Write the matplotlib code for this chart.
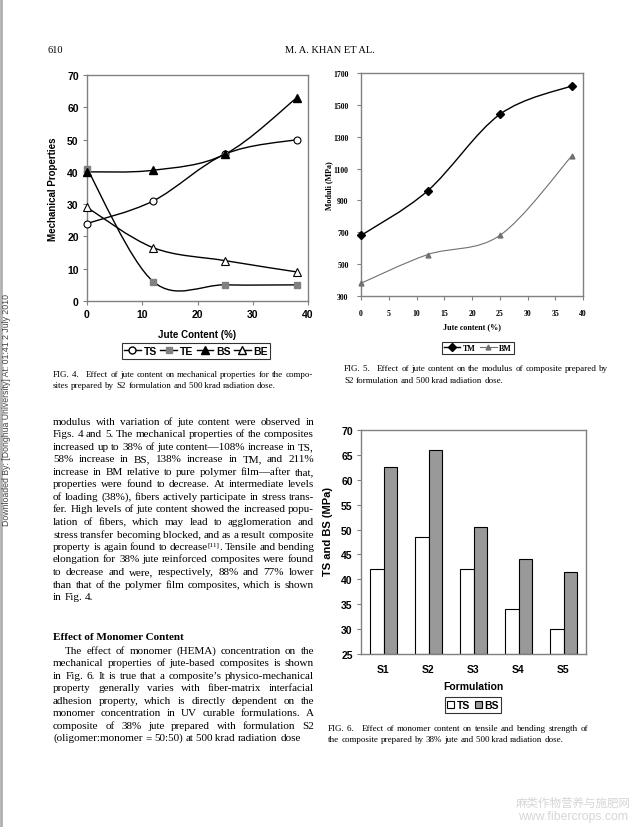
import matplotlib
matplotlib.use('Agg')
import matplotlib.pyplot as plt
from matplotlib.path import Path
from matplotlib.patches import PathPatch, Patch
from matplotlib.lines import Line2D
import numpy as np

W, H = 639, 828

# fig 4 data
jute = [0, 12, 25, 38]
ts = [24, 31, 45.5, 50]
te = [41, 6, 5, 5]
bs = [40, 40.5, 45.5, 63]
be = [29, 16.5, 12.5, 9]

# fig 5 data
tm = [680, 960, 1440, 1620]
bm = [380, 560, 680, 1180]

# fig 6 data
formulations = ['S1', 'S2', 'S3', 'S4', 'S5']
ts_form = [42, 48.5, 42, 34, 30]
bs_form = [62.5, 66, 50.5, 44, 41.5]

# '^' glues a superscript onto the word before it
body_1 = [
    "modulus with variation of jute content were observed in",
    "Figs. 4 and 5. The mechanical properties of the composites",
    "increased up to 38% of jute content\u2014108% increase in TS,",
    "58% increase in BS, 138% increase in TM, and 211%",
    "increase in BM relative to pure polymer film\u2014after that,",
    "properties were found to decrease. At intermediate levels",
    "of loading (38%), fibers actively participate in stress trans-",
    "fer. High levels of jute content showed the increased popu-",
    "lation of fibers, which may lead to agglomeration and",
    "stress transfer becoming blocked, and as a result composite",
    "property is again found to decrease ^[11] . Tensile and bending",
    "elongation for 38% jute reinforced composites were found",
    "to decrease and were, respectively, 88% and 77% lower",
    "than that of the polymer film composites, which is shown",
    "in Fig. 4.",
]
body_2 = [
    "The effect of monomer (HEMA) concentration on the",
    "mechanical properties of jute-based composites is shown",
    "in Fig. 6. It is true that a composite\u2019s physico-mechanical",
    "property generally varies with fiber-matrix interfacial",
    "adhesion property, which is directly dependent on the",
    "monomer concentration in UV curable formulations. A",
    "composite of 38% jute prepared with formulation S2",
    "(oligomer:monomer = 50:50) at 500\u2009krad radiation dose",
]
cap_4 = ["FIG. 4.\u2002 Effect of jute content on mechanical properties for the compo-",
         "sites prepared by S2 formulation and 500\u2009krad radiation dose."]
cap_5 = ["FIG. 5.\u2002 Effect of jute content on the modulus of composite prepared by",
         "S2 formulation and 500\u2009krad radiation dose."]
cap_6 = ["FIG. 6.\u2002 Effect of monomer content on tensile and bending strength of",
         "the composite prepared by 38% jute and 500\u2009krad radiation dose."]

SERIF = ['Liberation Serif', 'DejaVu Serif']
SANS = ['Liberation Sans', 'DejaVu Sans']
GRAY = '#808080'


def px_axes(fig, left, top, right, bottom):
    return fig.add_axes([left / W, 1 - bottom / H, (right - left) / W, (bottom - top) / H])


def smooth_path(xs, ys):
    # excel-like smoothed line through the points
    pts = list(zip(xs, ys))
    verts = [pts[0]]
    codes = [Path.MOVETO]
    n = len(pts)
    for i in range(n - 1):
        p0 = pts[max(i - 1, 0)]
        p1 = pts[i]
        p2 = pts[i + 1]
        p3 = pts[min(i + 2, n - 1)]
        c1 = (p1[0] + (p2[0] - p0[0]) / 6, p1[1] + (p2[1] - p0[1]) / 6)
        c2 = (p2[0] - (p3[0] - p1[0]) / 6, p2[1] - (p3[1] - p1[1]) / 6)
        verts += [c1, c2, p2]
        codes += [Path.CURVE4] * 3
    return Path(verts, codes)


def style_axes(ax, labelsize, family, weight='bold', pad=3):
    for s in ax.spines.values():
        s.set_color(GRAY)
        s.set_linewidth(1.0)
    ax.tick_params(direction='out', length=3, width=0.8, color=GRAY,
                   labelsize=labelsize, pad=pad)
    for lab in ax.get_xticklabels() + ax.get_yticklabels():
        lab.set_family(family)
        lab.set_fontweight(weight)


def justify(fig, lines, x0, x1, y0, step, size, last_free=True, first_indent=0):
    r = fig.canvas.get_renderer()
    for k, line in enumerate(lines):
        yb = y0 + k * step
        xs = x0 + (first_indent if k == 0 else 0)
        free = last_free and k == len(lines) - 1
        # group tokens into words; '^x' is a superscript, bare '.' etc glue on
        groups = []
        for tok in line.split(' '):
            if tok.startswith('^'):
                groups[-1].append((tok[1:], True))
            elif tok in ('.', ',') and groups:
                groups[-1].append((tok, False))
            else:
                groups.append([(tok, False)])
        placed = []
        for g in groups:
            parts = []
            for s, sup in g:
                t = fig.text(0, 1 - (yb - (3.5 if sup else 0)) / H, s, family=SERIF,
                             size=size * (0.65 if sup else 1), va='baseline')
                parts.append((t, t.get_window_extent(r).width))
            placed.append(parts)
        widths = [sum(w for _, w in p) for p in placed]
        space = size * 0.25 * 100 / 72
        if free:
            gap = space
        else:
            gap = max((x1 - xs - sum(widths)) / max(len(placed) - 1, 1), 1.5)
        cx = xs
        for parts, gw in zip(placed, widths):
            px = cx
            for t, w in parts:
                t.set_x(px / W)
                px += w
            cx += gw + gap


fig = plt.figure(figsize=(W / 100, H / 100), dpi=100)
fig.patch.set_facecolor('white')

# ---------- FIG 4 ----------
ax4 = px_axes(fig, 87, 76, 308, 302)
for yv in [ts, te, bs, be]:
    ax4.add_patch(PathPatch(smooth_path(jute, yv), fill=False, edgecolor='black', lw=1.0))
mk = dict(ls='none', zorder=5, clip_on=False)
ax4.plot(jute, ts, marker='o', ms=5, mfc='white', mec='black', mew=0.8, **mk)
ax4.plot(jute, te, marker='s', ms=5, mfc=GRAY, mec=GRAY, **mk)
ax4.plot(jute, bs, marker='^', ms=5.5, mfc='black', mec='black', **mk)
ax4.plot(jute, be, marker='^', ms=5.5, mfc='white', mec='black', mew=0.8, **mk)
ax4.set_xlim(0, 40)
ax4.set_ylim(0, 70)
ax4.set_xticks(range(0, 41, 10))
ax4.set_yticks(range(0, 71, 10))
ax4.set_xlabel('Jute Content (%)', family=SANS, weight='bold', size=7, labelpad=7)
ax4.set_ylabel('Mechanical Properties', family=SANS, weight='bold', size=7)
ax4.yaxis.set_label_coords(-0.131, 0.5)
style_axes(ax4, 7.5, SANS)
h4 = [Line2D([], [], color='black', lw=1, marker='o', ms=5, mfc='white', mec='black'),
      Line2D([], [], color='black', lw=1, marker='s', ms=5, mfc=GRAY, mec=GRAY),
      Line2D([], [], color='black', lw=1, marker='^', ms=5.5, mfc='black', mec='black'),
      Line2D([], [], color='black', lw=1, marker='^', ms=5.5, mfc='white', mec='black')]
leg4 = fig.legend(h4, ['TS', 'TE', 'BS', 'BE'], ncol=4, loc='center',
                  bbox_to_anchor=(196 / W, 1 - 352 / H), frameon=True, fancybox=False,
                  edgecolor='black', handlelength=1.6, handletextpad=0.25, columnspacing=0.35,
                  borderpad=0.25, prop={'family': SANS, 'weight': 'bold', 'size': 7.5})
leg4.get_frame().set_linewidth(0.8)

# ---------- FIG 5 ----------
ax5 = px_axes(fig, 361, 74, 583, 297)
ax5.add_patch(PathPatch(smooth_path(jute, tm), fill=False, edgecolor='black', lw=1.0))
ax5.add_patch(PathPatch(smooth_path(jute, bm), fill=False, edgecolor='#707070', lw=0.8))
ax5.plot(jute, tm, marker='D', ms=4, mfc='black', mec='black', **mk)
ax5.plot(jute, bm, marker='^', ms=3.5, mfc='#707070', mec='#707070', **mk)
ax5.set_xlim(0, 40)
ax5.set_ylim(300, 1700)
ax5.set_xticks(range(0, 41, 5))
ax5.set_yticks(range(300, 1701, 200))
ax5.set_xlabel('Jute content (%)', family=SERIF, weight='bold', size=5.8, labelpad=4)
ax5.set_ylabel('Moduli (MPa)', family=SERIF, weight='bold', size=5.8)
ax5.yaxis.set_label_coords(-0.126, 0.5)
style_axes(ax5, 5.6, SERIF, pad=6)
h5 = [Line2D([], [], color='black', lw=1, marker='D', ms=4, mfc='black', mec='black'),
      Line2D([], [], color='#707070', lw=0.8, marker='^', ms=3.5, mfc='#707070', mec='#707070')]
leg5 = fig.legend(h5, ['TM', 'BM'], ncol=2, loc='center',
                  bbox_to_anchor=(478 / W, 1 - 349 / H), frameon=True, fancybox=False,
                  edgecolor='black', handlelength=2.0, handletextpad=0.3, columnspacing=0.6,
                  borderpad=0.3, prop={'family': SERIF, 'weight': 'bold', 'size': 5.8})
leg5.get_frame().set_linewidth(0.8)

# ---------- FIG 6 ----------
ax6 = px_axes(fig, 361, 431, 586, 655)
xpos = np.arange(len(formulations))
bw = 0.3
ax6.bar(xpos - bw / 2, [v - 25 for v in ts_form], bw, bottom=25, color='white',
        edgecolor='black', lw=0.8, label='TS')
ax6.bar(xpos + bw / 2, [v - 25 for v in bs_form], bw, bottom=25, color='#999999',
        edgecolor='black', lw=0.8, label='BS')
ax6.set_xlim(-0.5, len(formulations) - 0.5)
ax6.set_ylim(25, 70)
ax6.set_yticks(range(25, 71, 5))
ax6.set_xticks(xpos)
ax6.set_xticklabels(formulations)
ax6.set_xlabel('Formulation', family=SANS, weight='bold', size=7.5, labelpad=5)
ax6.set_ylabel('TS and BS (MPa)', family=SANS, weight='bold', size=8)
ax6.yaxis.set_label_coords(-0.124, 0.55)
style_axes(ax6, 7.5, SANS)
ax6.tick_params(axis='x', length=0, pad=7)
h6 = [Patch(facecolor='white', edgecolor='black', lw=0.8),
      Patch(facecolor='#999999', edgecolor='black', lw=0.8)]
leg6 = fig.legend(h6, ['TS', 'BS'], ncol=2, loc='center',
                  bbox_to_anchor=(473 / W, 1 - 706 / H), frameon=True, fancybox=False,
                  edgecolor='black', handlelength=0.7, handleheight=0.7, handletextpad=0.2,
                  columnspacing=0.5, borderpad=0.25,
                  prop={'family': SANS, 'weight': 'bold', 'size': 7.5})
leg6.get_frame().set_linewidth(0.8)

# ---------- page text ----------
fig.text(48 / W, 1 - 53 / H, '610', family=SERIF, size=7.5, va='baseline')
fig.text(330 / W, 1 - 53 / H, 'M. A. KHAN ET AL.', family=SERIF, size=7.5, va='baseline', ha='center')

justify(fig, cap_4, 53, 313, 377, 11, 6.5)
justify(fig, cap_5, 344, 608, 371, 12, 6.5)
justify(fig, cap_6, 328, 588, 731, 11, 6.5)

justify(fig, body_1, 53, 314, 425, 12.5, 8.0)
fig.text(53 / W, 1 - 640 / H, 'Effect of Monomer Content', family=SERIF, weight='bold',
         size=8.0, va='baseline')
justify(fig, body_2, 53, 314, 654, 12.45, 8.0, first_indent=12)

# side stamp and left border
fig.text(7 / W, 1 - 410 / H, 'Downloaded By: [Donghua University] At: 01:41 2 July 2010',
         family=SANS, size=6.3, rotation=90, ha='center', va='center', color='#444444')
fig.add_artist(Line2D([1 / W, 1 / W], [0, 1], color='#b0b0b0', lw=2))

# watermark
fig.text(573 / W, 1 - 803 / H, '麻类作物营养与施肥网', family=['Noto Sans CJK SC', 'DejaVu Sans'],
         size=8.3, ha='center', va='center', color='#d6d6d6')
fig.text(573 / W, 1 - 817 / H, 'www.fibercrops.com', family=SANS,
         size=8.8, ha='center', va='center', color='#d6d6d6')

fig.savefig('out.png', dpi=100)
